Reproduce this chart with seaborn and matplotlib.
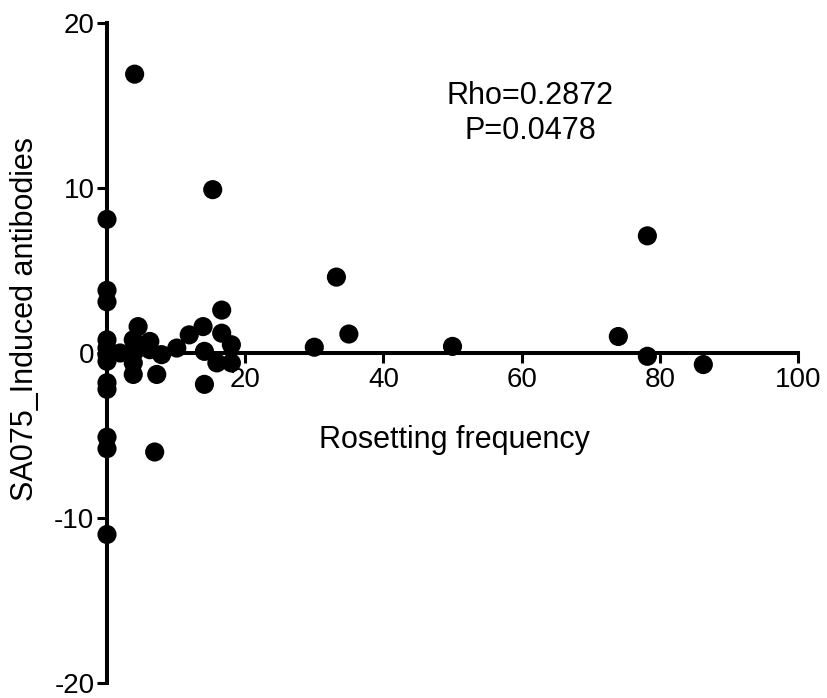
import matplotlib
matplotlib.use("Agg")
import matplotlib.pyplot as plt
import seaborn as sns
import pandas as pd

# Rosetting frequency (%) and SA075-induced antibody level per isolate
rosetting = [
    0, 0, 0, 0, 0, 0, 0, 0, 0, 0, 0, 0,
    1.9, 3.8, 4.5, 4.0, 3.8, 3.8, 4.0, 6.2, 6.2, 7.9, 7.2, 6.9,
    10.1, 11.9, 13.9, 14.1, 14.1, 15.3, 16.6, 16.6, 18.0, 15.9, 18.0,
    30.0, 33.2, 35.0, 50.0, 74.0, 78.2, 78.2, 86.3,
]
antibodies = [
    8.1, 3.8, 3.1, 0.8, 0.3, -0.1, -0.5, -1.8, -2.2, -5.1, -5.8, -11.0,
    0.0, 0.8, 1.6, 0.1, -0.6, -1.3, 16.9, 0.7, 0.2, -0.1, -1.3, -6.0,
    0.3, 1.1, 1.6, 0.1, -1.9, 9.9, 2.6, 1.2, 0.5, -0.6, -0.6,
    0.35, 4.6, 1.15, 0.4, 1.0, 7.1, -0.2, -0.7,
]

x_ticks = [20, 40, 60, 80, 100]
x_tick_labels = ["20", "40", "60", "80", "100"]
y_ticks = [-20, -10, 0, 10, 20]
y_tick_labels = ["-20", "-10", "0", "10", "20"]

rho_text = "Rho=0.2872"
p_text = "P=0.0478"

df = pd.DataFrame({"Rosetting frequency": rosetting,
                   "SA075_Induced antibodies": antibodies})

sns.set_theme(style="white")
plt.rcParams["font.family"] = ["Liberation Sans", "DejaVu Sans"]

W, H = 828, 698
fig = plt.figure(figsize=(W / 100, H / 100), dpi=100)
ax = fig.add_axes([107 / W, 1 - 683 / H, 691 / W, 660 / H])

sns.scatterplot(data=df, x="Rosetting frequency", y="SA075_Induced antibodies",
                ax=ax, color="black", s=190, edgecolor="none", clip_on=False,
                zorder=5)

ax.set_xlim(0, 100)
ax.set_ylim(-20, 20)

# Prism-style crossing axes: y axis at x=0, x axis at y=0
ax.spines["left"].set_position(("data", 0))
ax.spines["bottom"].set_position(("data", 0))
ax.spines["top"].set_visible(False)
ax.spines["right"].set_visible(False)
for side in ("left", "bottom"):
    ax.spines[side].set_linewidth(2.9)
    ax.spines[side].set_color("black")
    ax.spines[side].set_capstyle("projecting")

ax.set_xticks(x_ticks)
ax.set_xticklabels(x_tick_labels)
ax.set_yticks(y_ticks)
ax.set_yticklabels(y_tick_labels)
ax.tick_params(axis="both", direction="out", length=7, width=2.2,
               color="black", labelsize=20, labelcolor="black", pad=2,
               bottom=True, left=True, top=False, right=False)
ax.tick_params(axis="x", pad=3)

ax.set_xlabel("")
ax.set_ylabel("")
fig.text(454 / W, 1 - 440 / H, "Rosetting frequency", ha="center", va="center",
         fontsize=22, color="black")
fig.text(25 / W, 1 - 319 / H, "SA075_Induced antibodies", ha="center",
         va="center", rotation=90, fontsize=22, color="black")

fig.text(530 / W, 1 - 96 / H, rho_text, ha="center", va="center",
         fontsize=22, color="black")
fig.text(530 / W, 1 - 131 / H, p_text, ha="center", va="center",
         fontsize=22, color="black")

fig.savefig("out.png", dpi=100, facecolor="white")
